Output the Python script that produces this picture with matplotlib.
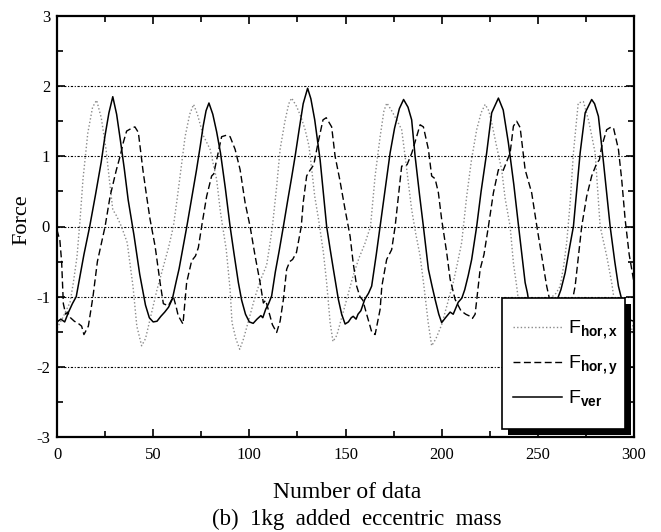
import matplotlib
matplotlib.use('Agg')
import matplotlib.pyplot as plt
from matplotlib.patches import Rectangle
from matplotlib.ticker import MultipleLocator


# solid line, F_ver
FVER_X = [0, 2, 4, 6, 8, 10, 12, 14, 17, 20, 23, 25, 27, 29, 31, 33, 35, 37, 40, 43,
          46, 48, 50, 52, 54, 56, 58, 60, 62, 63.5, 65.5, 67.5, 70, 72.5, 74.5, 76, 77.5,
          79, 81, 83, 85, 87.5, 90, 92, 94.3, 96, 98, 100, 102, 104, 106, 107, 108.5,
          110, 111.6, 113.5, 115.5, 117.7, 120, 122, 123.8, 126, 128, 130.3, 132, 134,
          136.8, 138.5, 140.2, 142, 143.7, 146.3, 148, 149.8, 151.5, 153, 154, 155.5,
          156.5, 158, 160, 162, 163.6, 166, 168, 170.5, 173.2, 175.5, 178, 180.2, 182.5,
          184.4, 186.2, 188.5, 190.5, 193.1, 195, 196.6, 198.5, 200, 202, 204.4, 206,
          208.6, 210.5, 212, 213.8, 215.6, 218.2, 220.5, 223.4, 226, 229.5, 232, 234.7,
          237.5, 240, 243.4, 244.6, 246, 248, 250, 253, 256, 258, 260, 262, 264.2, 266.5,
          268.5, 270, 272, 274.6, 278, 279.5, 281.5, 284, 287.6, 290, 291.9, 293.6, 295.5,
          297.5, 300]
FVER_Y = [-1.36, -1.32, -1.36, -1.22, -1.1, -1.0, -0.7, -0.4, 0.0, 0.45, 0.92, 1.3, 1.62,
          1.85, 1.6, 1.22, 0.82, 0.38, -0.12, -0.68, -1.12, -1.3, -1.36, -1.35, -1.28,
          -1.22, -1.15, -1.03, -0.78, -0.6, -0.3, 0.0, 0.4, 0.8, 1.15, 1.43, 1.65, 1.76,
          1.6, 1.35, 1.05, 0.55, 0.0, -0.38, -0.8, -1.05, -1.25, -1.36, -1.38, -1.32,
          -1.27, -1.3, -1.18, -1.1, -0.99, -0.65, -0.35, 0.0, 0.38, 0.7, 1.0, 1.4, 1.75,
          1.97, 1.82, 1.52, 0.95, 0.48, 0.0, -0.32, -0.61, -1.04, -1.25, -1.39, -1.36,
          -1.3, -1.28, -1.32, -1.25, -1.2, -1.04, -0.95, -0.85, -0.4, 0.0, 0.5, 1.05, 1.4,
          1.68, 1.81, 1.7, 1.52, 1.0, 0.45, 0.0, -0.61, -0.85, -1.04, -1.25, -1.37, -1.3,
          -1.22, -1.25, -1.08, -1.02, -0.9, -0.7, -0.47, 0.0, 0.5, 1.05, 1.62, 1.83, 1.66,
          1.19, 0.6, 0.0, -0.8, -0.95, -1.2, -1.33, -1.36, -1.3, -1.25, -1.15, -1.05, -0.9,
          -0.66, -0.3, 0.0, 0.45, 1.05, 1.62, 1.81, 1.75, 1.57, 0.95, 0.0, -0.5, -0.85,
          -1.04, -1.22, -1.33, -1.35]

# dashed line, F_hor,y
FHORY_X = [0, 1.5, 2.4, 3.3, 4.5, 5.5, 7, 9, 11, 12.8, 14, 16.3, 18.7, 21, 23, 25, 27.6,
           30, 30.8, 32.8, 34.5, 36.2, 38.8, 40.5, 42.3, 44.7, 46.6, 48.4, 51, 53.6, 55.3,
           57.9, 59.5, 60.5, 62, 63, 65.5, 67.4, 70, 72, 73.5, 75.2, 77.8, 80.4, 81.5, 83,
           85.6, 88, 90, 92.6, 95.2, 97.8, 100.4, 103, 105.6, 107.3, 108.5, 110, 112,
           114.2, 116, 117.7, 119.4, 121, 122.5, 124.5, 126, 127, 128, 129.8, 131.5, 133.5,
           135.7, 138.3, 140, 142.8, 144.6, 147, 149.8, 152.4, 154, 155.8, 157.5, 159, 161,
           163.6, 165.4, 168, 168.9, 171.4, 174, 175.8, 177.5, 179.2, 182, 184.5, 187,
           188.8, 190.5, 193.1, 194.8, 196.6, 198.3, 200, 202.6, 204.4, 207, 210, 212.5,
           214.8, 216, 217.4, 220, 222, 224.3, 226.9, 229.5, 232, 235.6, 237.3, 239, 240.8,
           243.4, 246.8, 249.5, 252, 254.6, 257, 260, 263, 266, 268, 269.4, 272.8, 275.4,
           278, 280.6, 282, 283.2, 285.8, 287.6, 289.3, 291.9, 293.6, 295.4, 297.5, 300]
FHORY_Y = [-0.05, -0.2, -0.5, -1.1, -1.25, -1.22, -1.3, -1.35, -1.38, -1.42, -1.54, -1.42,
           -1.0, -0.5, -0.25, 0.0, 0.43, 0.71, 0.8, 1.0, 1.2, 1.36, 1.4, 1.42, 1.34, 0.8,
           0.43, 0.1, -0.28, -0.8, -1.1, -1.13, -1.05, -1.0, -1.15, -1.27, -1.39, -0.8,
           -0.49, -0.42, -0.3, 0.0, 0.43, 0.72, 0.75, 0.95, 1.28, 1.3, 1.28, 1.1, 0.81,
           0.34, 0.0, -0.42, -0.8, -1.09, -1.05, -1.2, -1.4, -1.51, -1.35, -1.04, -0.61,
           -0.5, -0.47, -0.37, -0.15, 0.0, 0.34, 0.72, 0.8, 0.88, 1.19, 1.52, 1.55, 1.42,
           1.0, 0.67, 0.24, -0.14, -0.52, -0.85, -1.0, -1.05, -1.25, -1.5, -1.54, -1.18,
           -0.85, -0.47, -0.33, 0.0, 0.43, 0.86, 0.88, 1.05, 1.28, 1.45, 1.42, 1.1, 0.72,
           0.68, 0.48, 0.1, -0.37, -0.75, -1.04, -1.2, -1.25, -1.28, -1.31, -1.25, -0.61,
           -0.4, 0.0, 0.48, 0.81, 0.8, 1.05, 1.43, 1.5, 1.41, 0.81, 0.48, 0.0, -0.42,
           -0.85, -1.15, -1.35, -1.45, -1.3, -1.05, -0.85, 0.0, 0.43, 0.72, 0.9, 0.95,
           1.14, 1.38, 1.41, 1.41, 1.1, 0.67, 0.1, -0.4, -0.8]

# dotted line, F_hor,x
FHORX_X = [0, 3, 6.8, 8.5, 10.4, 12, 13.5, 16, 18.5, 20.6, 23, 25.5, 27.5, 29, 31, 33.5,
           36.5, 39.5, 41.5, 44, 46, 49, 52, 55, 58, 60.5, 62.5, 64, 66.6, 69, 71, 73, 76,
           79.6, 83, 85, 88, 90, 91, 93, 95, 97, 100, 103, 106, 109, 110.8, 112, 114.2,
           116, 118.5, 120.5, 122, 124.6, 127, 129, 131, 132.5, 134, 136, 138.5, 140.2,
           142, 143.5, 145.5, 148, 151, 154, 157, 160, 163, 165.4, 168, 170, 171.5, 174,
           177, 179.2, 181, 183, 184.4, 186.5, 188.8, 191, 193, 194.8, 197, 200, 203, 206,
           208, 210.4, 213, 215.5, 218.2, 220.5, 222.6, 224.5, 226, 228.5, 231.2, 233,
           235.6, 237.3, 239, 241, 243.5, 245.5, 248, 251, 254, 257.5, 259.5, 261.6, 263.5,
           265, 266.8, 268.5, 271, 273.7, 276.5, 279.8, 282.4, 285.8, 288.4, 290.5, 293,
           295.5, 298, 300]
FHORX_Y = [-1.45, -1.3, -1.08, -0.8, -0.43, 0.1, 0.67, 1.33, 1.7, 1.8, 1.55, 1.1, 0.6,
           0.24, 0.15, 0.0, -0.23, -0.85, -1.42, -1.7, -1.6, -1.25, -0.9, -0.6, -0.3, 0.0,
           0.4, 0.72, 1.28, 1.6, 1.74, 1.6, 1.3, 1.1, 0.67, 0.2, -0.33, -0.9, -1.37, -1.6,
           -1.75, -1.6, -1.3, -1.0, -0.75, -0.55, -0.23, 0.0, 0.57, 1.1, 1.5, 1.75, 1.83,
           1.71, 1.55, 1.38, 1.15, 0.8, 0.43, 0.1, -0.37, -0.8, -1.37, -1.64, -1.55, -1.3,
           -1.0, -0.7, -0.45, -0.25, 0.0, 0.72, 1.28, 1.65, 1.76, 1.65, 1.5, 1.38, 1.0,
           0.55, 0.24, -0.1, -0.42, -0.9, -1.37, -1.7, -1.6, -1.4, -1.1, -0.8, -0.55,
           -0.23, 0.43, 0.95, 1.38, 1.62, 1.74, 1.65, 1.48, 1.15, 0.81, 0.4, 0.0, -0.52,
           -0.85, -1.3, -1.65, -1.7, -1.55, -1.35, -1.15, -1.0, -0.95, -0.85, -0.55, -0.23,
           0.34, 1.05, 1.76, 1.78, 1.5, 1.05, 0.0, -0.42, -0.8, -1.2, -1.55, -1.68, -1.55,
           -1.35]

LABELS = [r'F$_{\mathbf{hor,x}}$', r'F$_{\mathbf{hor,y}}$', r'F$_{\mathbf{ver}}$']

plt.rcParams['font.family'] = 'Liberation Serif'
plt.rcParams['mathtext.fontset'] = 'custom'
plt.rcParams['mathtext.rm'] = 'Liberation Sans'
plt.rcParams['mathtext.bf'] = 'Liberation Sans:bold'
plt.rcParams['axes.unicode_minus'] = False

fig = plt.figure(figsize=(6.61, 5.32), dpi=100)
ax = fig.add_axes([57 / 661, 1 - 437 / 532, 577 / 661, 421 / 532])

ax.plot(FHORX_X, FHORX_Y, color='#8a8a8a', linestyle=(0, (1, 1.6)), lw=1.0, label=LABELS[0])
ax.plot(FHORY_X, FHORY_Y, color='black', linestyle=(0, (5, 2.5)), lw=1.0, label=LABELS[1])
ax.plot(FVER_X, FVER_Y, color='black', linestyle='-', lw=1.1, label=LABELS[2])

for yg in [-2, -1, 0, 1, 2]:
    ax.axhline(yg, color='black', lw=0.8, linestyle=(0, (2, 1.5, 1, 1.5)), zorder=0.5)

ax.set_xlim(0, 300)
ax.set_ylim(-3, 3)
ax.xaxis.set_major_locator(MultipleLocator(50))
ax.xaxis.set_minor_locator(MultipleLocator(25))
ax.yaxis.set_major_locator(MultipleLocator(1))
ax.yaxis.set_minor_locator(MultipleLocator(0.5))
ax.tick_params(which='both', direction='in', top=True, right=True, width=1.2)
ax.tick_params(which='major', length=6, labelsize=12)
ax.tick_params(which='minor', length=4)
ax.tick_params(axis='x', pad=7)
ax.tick_params(axis='y', pad=5)
for sp in ax.spines.values():
    sp.set_linewidth(1.6)

fig.text(22 / 661, 1 - 220 / 532, 'Force', rotation=90, ha='center', va='center', fontsize=16)
fig.text(347 / 661, 1 - 493 / 532, 'Number of data', ha='center', va='center', fontsize=17)
fig.text(357 / 661, 1 - 519 / 532, '(b)  1kg  added  eccentric  mass', ha='center',
         va='center', fontsize=16.5)

# legend box with a heavy black drop shadow, drawn by hand
bx0, bx1 = 0.7712, 0.9844
by0, by1 = 0.019, 0.330
trans = ax.transAxes
dx, dy = 6 / 577, 6 / 421
ax.add_patch(Rectangle((bx0 + dx, by0 - dy), bx1 - bx0, by1 - by0, facecolor='black',
                       edgecolor='none', transform=trans, clip_on=False, zorder=8))
ax.add_patch(Rectangle((bx0, by0), bx1 - bx0, by1 - by0, facecolor='white',
                       edgecolor='black', lw=1.2, transform=trans, clip_on=False, zorder=9))

leg = ax.legend(loc='center', bbox_to_anchor=((bx0 + bx1) / 2 + 0.004, (by0 + by1) / 2),
                frameon=False, borderaxespad=0, handlelength=2.5, handletextpad=0.35,
                labelspacing=0.6, prop={'family': 'Liberation Sans', 'size': 14})
leg.set_zorder(10)

fig.savefig('out.png', dpi=100)
